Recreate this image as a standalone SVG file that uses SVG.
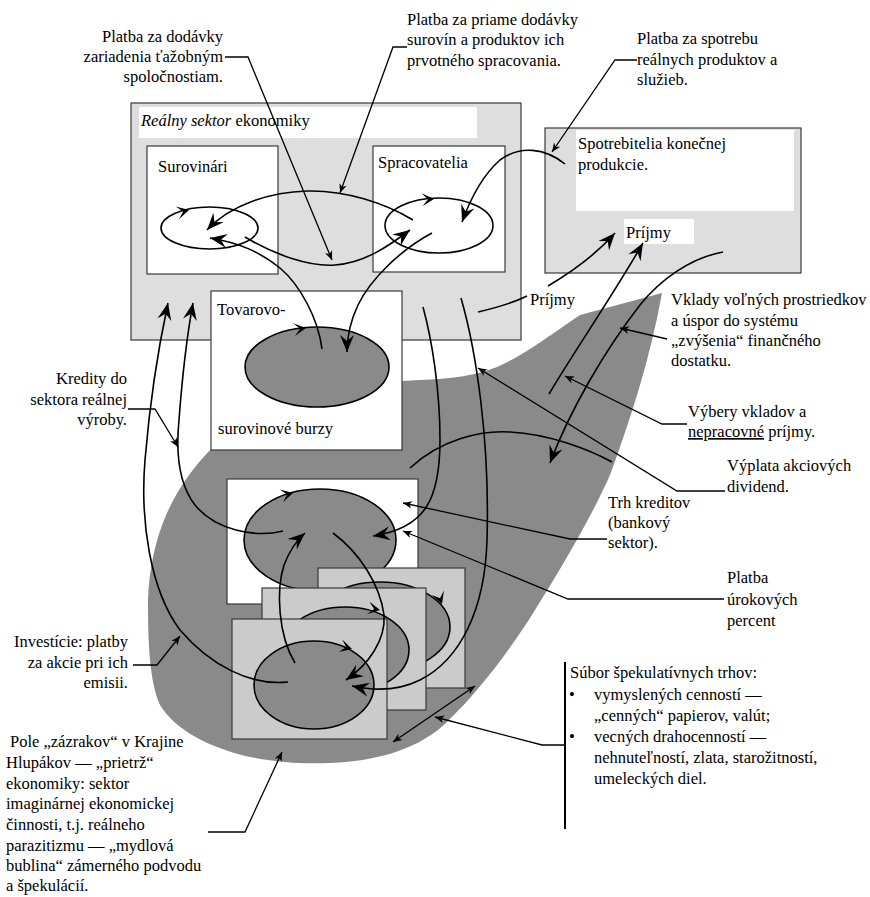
<svg xmlns="http://www.w3.org/2000/svg" width="870" height="897" viewBox="0 0 870 897">
<style>
text{font-family:"Liberation Serif","Times New Roman","DejaVu Serif",serif;font-size:16.5px;fill:#000}
.end{text-anchor:end}
.box{stroke:#3a3a3a;stroke-width:1.2}
.lg{fill:#dedede}
.wh{fill:#fff}
.st{fill:#cbcbcb}
.dk{fill:#8a8a8a}
.ell{stroke:#000;stroke-width:1.6}
.flow{fill:none;stroke:#000;stroke-width:1.6}
.flowa{fill:none;stroke:#000;stroke-width:1.6;marker-end:url(#big)}
.lead{fill:none;stroke:#000;stroke-width:1.3;marker-end:url(#small)}
</style>
<defs>
<marker id="big" viewBox="-18 -8 19 16" refX="0" refY="0" markerWidth="19" markerHeight="16" markerUnits="userSpaceOnUse" orient="auto"><path d="M0,0 L-17,-7 L-11,0 L-17,7 Z" fill="#000"/></marker>
<marker id="small" viewBox="-10 -5 11 10" refX="0" refY="0" markerWidth="11" markerHeight="10" markerUnits="userSpaceOnUse" orient="auto-start-reverse"><path d="M0,0 L-9,-3.8 L-6.5,0 L-9,3.8 Z" fill="#000"/></marker>
<path id="chev" d="M0,0 L-12,-6.5 L-6,0 L-12,6.5 Z" fill="#000"/>
</defs>
<rect width="870" height="897" fill="#fff"/>

<g id="real-sector">
<rect class="box lg" x="131" y="103" width="390" height="237"/>
<rect class="wh" x="139" y="107" width="338" height="31"/>
<text x="141" y="126"><tspan font-style="italic">Reálny sektor</tspan> ekonomiky</text>
</g>

<g id="surovinari">
<rect class="box wh" x="147" y="146" width="131" height="128"/>
<text x="158" y="172">Surovinári</text>
<ellipse class="ell" cx="209.5" cy="228" rx="48.5" ry="21" fill="#fff"/>
<use href="#chev" transform="translate(189,210) rotate(-14)"/>
</g>

<g id="spracovatelia">
<rect class="box wh" x="373" y="146" width="132" height="126"/>
<text x="378" y="168">Spracovatelia</text>
<ellipse class="ell" cx="439" cy="225.5" rx="54" ry="27.5" fill="#fff"/>
<use href="#chev" transform="translate(434,199) rotate(-4)"/>
</g>

<g id="spotrebitelia">
<rect class="box lg" x="545" y="128" width="256" height="145"/>
<rect class="wh" x="576" y="130" width="218" height="81"/>
<text x="578" y="149">Spotrebitelia konečnej</text>
<text x="578" y="170">produkcie.</text>
<rect class="wh" x="624" y="219" width="70" height="25"/>
<text x="626" y="238">Príjmy</text>
</g>

<g id="pole-zazrakov">
<path class="dk" d="M662,293 L580,315 C550,335 525,355 497,367 C475,376 450,379 420,380 L402,381 L300,400 L213,447 C195,465 178,488 167,513 C155,540 149,570 148,600 C148,640 149,680 160,705 C175,730 210,748 250,757 C280,763 305,764 330,763 C380,761 420,748 447,722 C480,690 510,650 535,610 C560,570 590,520 610,475 C630,420 650,360 662,293 Z"/>
</g>

<g id="burza">
<rect class="box wh" x="211" y="291" width="191" height="159"/>
<text x="217" y="315">Tovarovo-</text>
<text x="218" y="434">surovinové burzy</text>
<ellipse class="ell dk" cx="317" cy="367" rx="72" ry="40"/>
<use href="#chev" transform="translate(306,328) rotate(-8)"/>
</g>

<g id="trh-kreditov">
<rect class="box wh" x="227" y="479" width="191" height="125"/>
<ellipse class="ell dk" cx="320" cy="540" rx="76" ry="51"/>
<use href="#chev" transform="translate(293,493) rotate(-14)"/>
</g>

<g id="spekulativne-trhy">
<rect class="box st" x="318" y="568" width="147" height="120"/>
<ellipse class="ell dk" cx="380" cy="627" rx="70" ry="45"/>
<use href="#chev" transform="translate(442,604) rotate(70)"/>
<rect class="box st" x="262" y="588" width="164" height="122"/>
<ellipse class="ell dk" cx="345" cy="650" rx="64" ry="43"/>
<use href="#chev" transform="translate(380,610) rotate(10)"/>
<rect class="box st" x="232" y="619" width="155" height="120"/>
<ellipse class="ell dk" cx="314" cy="685" rx="60" ry="44"/>
<use href="#chev" transform="translate(352,649) rotate(16)"/>
</g>

<g id="connectors">
<path class="flowa" d="M413,220 C385,203 345,190 307,191 C270,192 230,205 207,230"/>
<path class="flowa" d="M245,237 C275,255 310,267 335,265 C365,263 390,245 410,230"/>
<path class="flowa" d="M322,349 C318,318 300,285 280,268 C260,252 240,243 210,238"/>
<path class="flowa" d="M432,233 C400,250 370,280 358,305 C350,322 347,338 347,352"/>
<path class="flowa" d="M565,164 C545,148 520,145 500,160 C483,175 470,200 462,222"/>
<path class="flowa" d="M288,682 C250,686 210,665 180,630 C150,590 140,520 145,460 C150,400 160,340 168,303"/>
<path class="flowa" d="M283,531 C255,538 215,530 195,505 C178,483 176,450 179,420 C182,380 188,330 193,303"/>
<path class="flowa" d="M423,307 C432,340 440,390 440,440 C440,500 425,528 373,536"/>
<path class="flowa" d="M461,298 C476,350 490,440 487,540 C485,610 460,660 420,680 C400,690 375,691 352,686"/>
<path class="flowa" d="M295,663 C278,635 276,590 284,565 C289,552 297,540 305,533"/>
<path class="flowa" d="M333,533 C360,553 380,585 384,615 C386,640 368,665 346,680"/>
<path class="flow" d="M410,468 C440,440 480,430 510,432 C550,434 590,450 612,462"/>
<path class="flow" d="M478,312 C495,308 515,302 527,296"/>
<path class="flowa" d="M548,286 C575,270 600,250 615,233"/>
<path class="flowa" d="M549,394 C575,350 610,300 643,243"/>
<path class="flowa" d="M723,252 C690,258 660,280 640,305 C605,350 570,410 550,463"/>

<path class="lead" d="M225,57 L248,57 L332,260"/>
<path class="lead" d="M407,47 L393,47 L340,193"/>
<path class="lead" d="M637,60 L615,60 L552,152"/>
<path class="lead" d="M128,409 L155,409 L178,447"/>
<path class="lead" d="M667,339 L620,328"/>
<path class="lead" d="M687,424 L662,424 L565,376"/>
<path class="lead" d="M725,491 L677,491 L478,368"/>
<path class="lead" d="M607,539 L570,539 L403,503"/>
<path class="lead" d="M724,599 L568,599 L403,531"/>
<path class="lead" d="M133,665 L157,665 L180,636"/>
<path class="lead" d="M208,832 L245,832 L282,752"/>
<path class="lead" d="M565,745 L542,745 L435,717"/>
<path class="lead" d="M393,742 L475,686" marker-start="url(#small)"/>
<line x1="565" y1="662" x2="565" y2="829" stroke="#000" stroke-width="2"/>
</g>

<g id="labels">
<text class="end" x="223" y="42">Platba za dodávky</text>
<text class="end" x="223" y="62">zariadenia ťažobným</text>
<text class="end" x="223" y="82">spoločnostiam.</text>

<text x="407" y="25">Platba za priame dodávky</text>
<text x="407" y="45">surovín a produktov ich</text>
<text x="407" y="66">prvotného spracovania.</text>

<text x="637" y="44">Platba za spotrebu</text>
<text x="637" y="65">reálnych produktov a</text>
<text x="637" y="85">služieb.</text>

<text x="530" y="305">Príjmy</text>

<text x="671" y="305">Vklady voľných prostriedkov</text>
<text x="671" y="326">a úspor do systému</text>
<text x="671" y="346">„zvýšenia“ finančného</text>
<text x="671" y="366">dostatku.</text>

<text class="end" x="127" y="384">Kredity do</text>
<text class="end" x="127" y="405">sektora reálnej</text>
<text class="end" x="127" y="425">výroby.</text>

<text x="688" y="417">Výbery vkladov a</text>
<text x="688" y="437"><tspan text-decoration="underline">nepracovné</tspan> príjmy.</text>

<text x="727" y="471">Výplata akciových</text>
<text x="727" y="492">dividend.</text>

<text x="608" y="508">Trh kreditov</text>
<text x="608" y="528">(bankový</text>
<text x="608" y="548">sektor).</text>

<text x="727" y="583">Platba</text>
<text x="727" y="605">úrokových</text>
<text x="727" y="626">percent</text>

<text class="end" x="128" y="647">Investície: platby</text>
<text class="end" x="128" y="668">za akcie pri ich</text>
<text class="end" x="128" y="688">emisii.</text>

<text x="10" y="747">Pole „zázrakov“ v Krajine</text>
<text x="6" y="768">Hlupákov — „prietrž“</text>
<text x="6" y="789">ekonomiky: sektor</text>
<text x="6" y="809">imaginárnej ekonomickej</text>
<text x="6" y="830">činnosti, t.j. reálneho</text>
<text x="6" y="851">parazitizmu — „mydlová</text>
<text x="6" y="871">bublina“ zámerného podvodu</text>
<text x="6" y="891">a špekulácií.</text>

<text x="570" y="678">Súbor špekulatívnych trhov:</text>
<text x="569" y="700">•</text>
<text x="594" y="700">vymyslených cenností —</text>
<text x="594" y="721">„cenných“ papierov, valút;</text>
<text x="569" y="742">•</text>
<text x="594" y="742">vecných drahocenností —</text>
<text x="594" y="763">nehnuteľností, zlata, starožitností,</text>
<text x="594" y="784">umeleckých diel.</text>
</g>
</svg>
